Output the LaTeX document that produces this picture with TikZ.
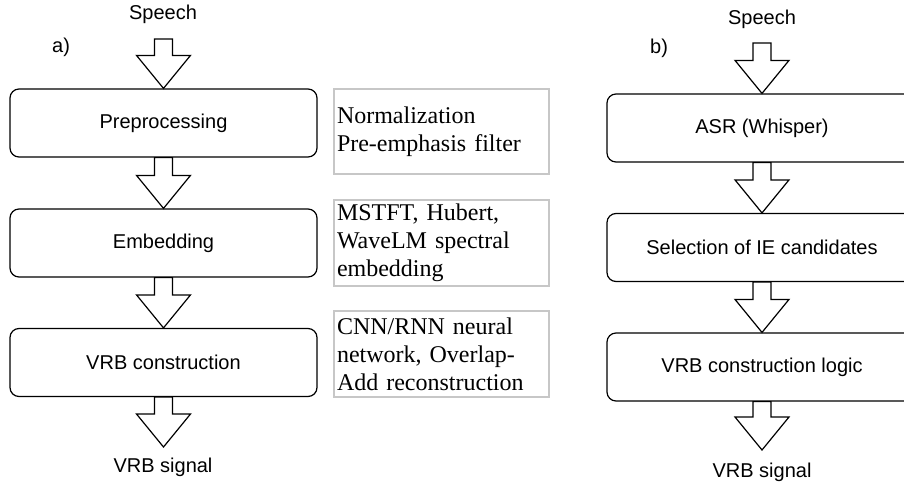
\documentclass[tikz,border=0pt]{standalone}
\usepackage{fontspec}
\setsansfont{Liberation Sans}
\newfontfamily\notefont{Liberation Serif}
\usetikzlibrary{calc}
\tikzset{
  lbl/.style={font=\sffamily\fontsize{20}{24}\selectfont, inner sep=0pt},
  stage/.style={draw=black, line width=1.2pt, rounded corners=9pt, fill=white,
    font=\sffamily\fontsize{20}{24}\selectfont, minimum height=68pt, inner sep=0pt},
  note/.style={draw=black!22, line width=1.3pt, fill=white,
    font=\notefont\fontsize{24}{28}\selectfont, minimum width=215pt,
    text width=209pt, align=left, inner xsep=3pt, inner ysep=0pt},
  barrowstyle/.style={draw=black, line width=1.2pt, fill=white, line join=miter}
}
\newcommand\blockarrow[2]{%
  \draw[barrowstyle] let \p1=(#1), \p2=(#2) in
    (\x1-9pt,\y1) -- (\x1-9pt,\y2+33pt) -- (\x1-27pt,\y2+33pt) -- (\x1,\y2)
    -- (\x1+27pt,\y2+33pt) -- (\x1+9pt,\y2+33pt) -- (\x1+9pt,\y1) -- cycle;}
\begin{document}
\begin{tikzpicture}[x=1pt,y=-1pt]
\useasboundingbox (0,0) rectangle (904,482);
\clip (0,0) rectangle (904,482);
\fill[white] (0,0) rectangle (904,482);

% ---- a) ----
\node[lbl, anchor=base] (speechA) at (163,19) {Speech};
\node[lbl, anchor=base west] (labA) at (52,52) {a)};
\coordinate (inA) at (163.5,39);
\node[stage, minimum width=307pt] (pre) at (163.5,123) {Preprocessing};
\node[stage, minimum width=307pt] (emb) at (163.5,243) {Embedding};
\node[stage, minimum width=307pt] (vrb) at (163.5,362.5) {VRB construction};
\coordinate (outA) at (163.5,447);
\node[lbl, anchor=base] (sigA) at (163,472) {VRB signal};

\blockarrow{inA}{pre.north}
\blockarrow{pre.south}{emb.north}
\blockarrow{emb.south}{vrb.north}
\blockarrow{vrb.south}{outA}

\node[note, minimum height=85pt] (n1) at (441.5,131.5) {Normalization\\Pre-emphasis filter};
\node[note, minimum height=86pt] (n2) at (441.5,243) {MSTFT, Hubert,\\WaveLM spectral\\embedding};
\node[note, minimum height=86pt] (n3) at (441.5,354) {CNN/RNN neural\\network, Overlap-\\Add reconstruction};

% ---- b) ----
\node[lbl, anchor=base] (speechB) at (762,24) {Speech};
\node[lbl, anchor=base west] (labB) at (650,53) {b)};
\coordinate (inB) at (762,43);
\node[stage, minimum width=310pt] (asr) at (762,128) {ASR (Whisper)};
\node[stage, minimum width=310pt] (sel) at (762,247.5) {Selection of IE candidates};
\node[stage, minimum width=310pt] (logic) at (762,367) {VRB construction logic};
\coordinate (outB) at (762,450);
\node[lbl, anchor=base] (sigB) at (762,477) {VRB signal};

\blockarrow{inB}{asr.north}
\blockarrow{asr.south}{sel.north}
\blockarrow{sel.south}{logic.north}
\blockarrow{logic.south}{outB}
\end{tikzpicture}
\end{document}
